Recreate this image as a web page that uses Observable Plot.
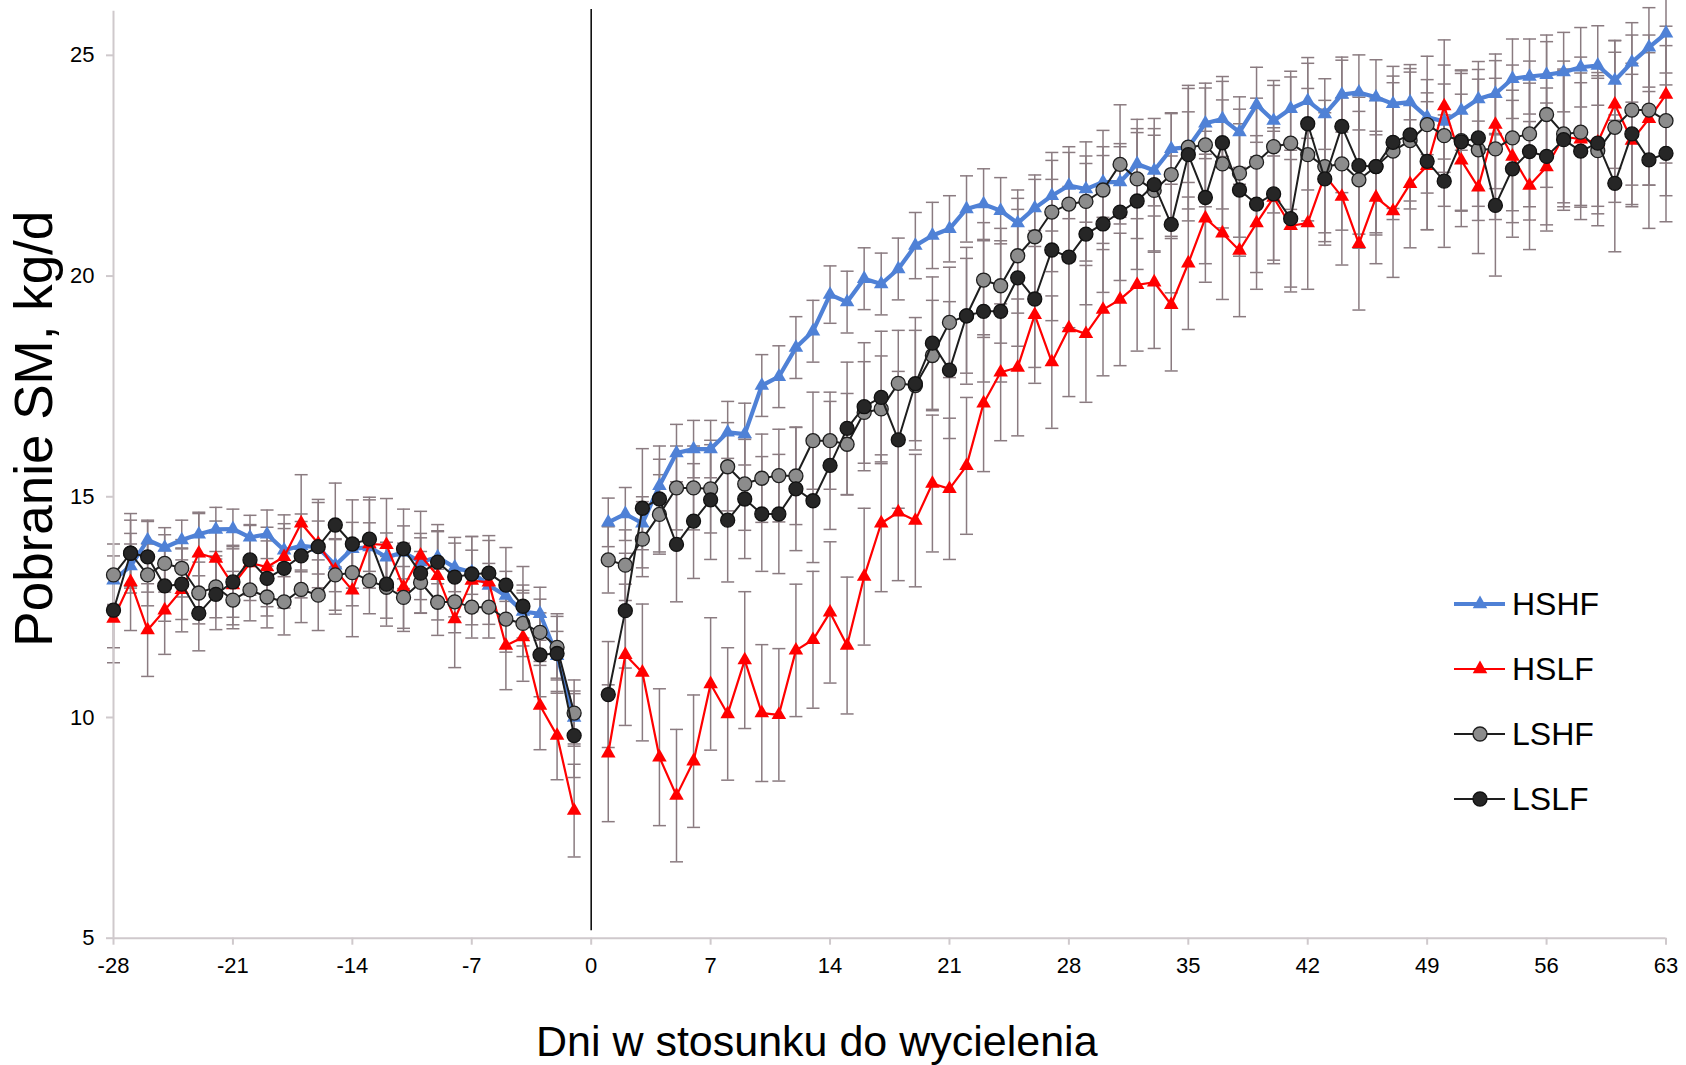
<!DOCTYPE html>
<html>
<head>
<meta charset="utf-8">
<script src="https://cdn.jsdelivr.net/npm/d3@7"></script>
<script src="https://cdn.jsdelivr.net/npm/@observablehq/plot@0.6"></script>
<style>
  html, body { margin: 0; padding: 0; background: #fff; }
  #wrap { position: relative; width: 1686px; height: 1065px; font-family: Arial, "Liberation Sans", sans-serif; }
  #legend { position: absolute; left: 1454px; top: 0; }
  .lg { position: absolute; left: 0; display: flex; align-items: center; height: 40px; white-space: nowrap; }
  .lg span { font-size: 32px; color: #000; margin-left: 6px; }
</style>
</head>
<body>
<div id="wrap"><div id="legend"></div></div>
<script>
// Days relative to calving (no day 0)
const days = [-28,-27,-26,-25,-24,-23,-22,-21,-20,-19,-18,-17,-16,-15,-14,-13,-12,-11,-10,-9,-8,-7,-6,-5,-4,-3,-2,-1,
  1,2,3,4,5,6,7,8,9,10,11,12,13,14,15,16,17,18,19,20,21,22,23,24,25,26,27,28,29,30,31,32,33,34,35,36,37,38,39,40,
  41,42,43,44,45,46,47,48,49,50,51,52,53,54,55,56,57,58,59,60,61,62,63];

const xTicks = [-28,-21,-14,-7,0,7,14,21,28,35,42,49,56,63];
const yTicks = [5,10,15,20,25];
const seriesNames = ["HSHF","HSLF","LSHF","LSLF"];

const HSHF = [13.11,13.43,14.02,13.85,14.02,14.15,14.26,14.27,14.08,14.15,13.79,13.89,13.85,13.45,13.82,13.86,13.63,13.74,13.52,13.63,13.4,13.29,12.99,12.76,12.4,12.35,11.4,10.0,
  14.42,14.61,14.4,15.25,15.99,16.08,16.08,16.46,16.42,17.52,17.72,18.38,18.75,19.58,19.41,19.94,19.82,20.16,20.69,20.92,21.07,21.52,21.63,21.48,21.2,21.54,21.82,22.05,21.97,22.13,
  22.13,22.54,22.39,22.88,22.92,23.46,23.56,23.26,23.88,23.52,23.79,23.97,23.67,24.11,24.16,24.05,23.9,23.94,23.6,23.5,23.75,24.01,24.13,24.47,24.52,24.56,24.62,24.73,24.77,24.43,24.84,25.18,25.5];
const HSHF_err = [0.55,0.5,0.45,0.45,0.45,0.5,0.5,0.45,0.5,0.55,0.6,0.55,0.6,0.6,0.6,0.55,0.55,0.6,0.55,0.6,0.55,0.5,0.5,0.55,0.6,0.6,0.55,0.6,
  0.55,0.6,0.6,0.6,0.65,0.65,0.65,0.7,0.7,0.7,0.7,0.7,0.7,0.65,0.7,0.7,0.7,0.7,0.75,0.75,0.75,0.75,0.8,0.75,0.75,0.75,0.8,0.75,0.75,0.8,
  0.8,0.8,0.8,0.8,0.8,0.8,0.85,0.8,0.85,0.8,0.85,0.85,0.8,0.85,0.85,0.85,0.85,0.85,0.85,0.85,0.9,0.85,0.9,0.9,0.85,0.9,0.9,0.9,0.9,0.9,0.9,0.9,0.9];

const HSLF = [12.24,13.07,11.98,12.43,12.89,13.72,13.6,13.0,13.5,13.41,13.64,14.4,13.94,13.34,12.88,13.93,13.91,12.95,13.67,13.21,12.23,13.1,13.06,11.63,11.82,10.27,9.59,7.89,
  9.19,11.42,11.02,9.1,8.23,9.01,10.76,10.08,11.3,10.1,10.06,11.52,11.76,12.38,11.63,13.19,14.4,14.65,14.46,15.3,15.18,15.7,17.12,17.82,17.93,19.12,18.05,18.82,18.69,19.24,
  19.47,19.8,19.86,19.35,20.29,21.31,20.97,20.58,21.2,21.78,21.14,21.2,22.28,21.8,20.73,21.78,21.47,22.09,22.5,23.85,22.62,22.01,23.43,22.71,22.05,22.47,23.16,23.1,23.03,23.89,23.07,23.56,24.11];
const HSLF_err = [1.0,1.1,1.05,1.0,0.95,0.9,0.85,0.9,0.85,0.9,0.95,1.1,1.0,1.0,1.05,1.0,1.05,1.0,1.0,1.0,1.1,1.0,0.95,1.0,1.0,1.0,1.0,1.05,
  1.55,1.6,1.55,1.55,1.5,1.5,1.5,1.5,1.55,1.55,1.5,1.5,1.55,1.6,1.55,1.55,1.55,1.55,1.5,1.55,1.6,1.55,1.55,1.55,1.55,1.55,1.5,1.55,1.55,1.5,
  1.5,1.5,1.5,1.5,1.5,1.45,1.5,1.5,1.5,1.5,1.5,1.5,1.5,1.55,1.5,1.5,1.5,1.45,1.45,1.5,1.5,1.5,1.45,1.5,1.45,1.45,1.5,1.5,1.45,1.45,1.5,1.5,1.55];

const LSHF = [13.23,13.72,13.23,13.49,13.38,12.82,12.96,12.66,12.89,12.73,12.62,12.9,12.77,13.23,13.28,13.1,12.95,12.72,13.06,12.61,12.62,12.5,12.5,12.23,12.13,11.93,11.59,10.1,
  13.57,13.45,14.04,14.6,15.2,15.2,15.18,15.68,15.29,15.42,15.48,15.47,16.27,16.27,16.19,16.91,16.99,17.57,17.52,18.2,18.95,19.1,19.91,19.78,20.46,20.89,21.45,21.63,21.69,21.95,
  22.53,22.2,21.94,22.3,22.92,22.97,22.54,22.33,22.58,22.93,23.01,22.75,22.48,22.54,22.18,22.48,22.83,23.07,23.43,23.18,23.07,22.86,22.88,23.13,23.22,23.66,23.22,23.26,22.84,23.37,23.76,23.76,23.52];
const LSHF_err = [0.7,0.75,0.7,0.65,0.65,0.7,0.7,0.65,0.7,0.7,0.75,0.75,0.8,0.8,0.75,0.75,0.7,0.7,0.7,0.75,0.7,0.7,0.7,0.75,0.75,0.75,0.7,0.75,
  0.75,0.8,0.85,0.9,0.95,0.95,1.0,1.0,1.05,1.0,1.05,1.1,1.1,1.1,1.15,1.15,1.2,1.2,1.25,1.25,1.25,1.3,1.3,1.3,1.3,1.3,1.35,1.3,1.35,1.35,
  1.35,1.35,1.4,1.4,1.4,1.4,1.45,1.45,1.45,1.5,1.5,1.5,1.5,1.5,1.55,1.5,1.55,1.55,1.55,1.6,1.6,1.6,1.6,1.65,1.65,1.65,1.65,1.7,1.7,1.7,1.7,1.7,1.7];

const LSLF = [12.43,13.72,13.64,12.98,13.02,12.36,12.79,13.07,13.57,13.15,13.38,13.66,13.87,14.36,13.93,14.04,13.02,13.82,13.27,13.52,13.18,13.25,13.27,13.0,12.52,11.42,11.45,9.59,
  10.52,12.42,14.74,14.95,13.92,14.45,14.93,14.47,14.95,14.61,14.61,15.18,14.91,15.71,16.55,17.04,17.25,16.29,17.56,18.48,17.87,19.1,19.2,19.2,19.96,19.48,20.59,20.43,20.95,21.18,
  21.45,21.7,22.07,21.17,22.75,21.78,23.02,21.95,21.63,21.86,21.3,23.45,22.2,23.39,22.5,22.48,23.03,23.2,22.6,22.15,23.04,23.13,21.6,22.43,22.82,22.71,23.09,22.83,23.01,22.1,23.22,22.63,22.78];
const LSLF_err = [0.85,0.9,0.8,0.8,0.8,0.85,0.8,0.8,0.8,0.85,0.9,0.95,1.0,0.95,1.0,0.95,0.95,0.9,0.9,0.85,0.9,0.85,0.85,0.85,0.9,0.95,0.9,0.95,
  1.2,1.3,1.35,1.2,1.3,1.3,1.35,1.4,1.35,1.3,1.35,1.4,1.4,1.45,1.5,1.45,1.5,1.55,1.5,1.5,1.55,1.55,1.6,1.6,1.55,1.55,1.6,1.6,1.6,1.55,
  1.55,1.55,1.5,1.55,1.5,1.5,1.5,1.5,1.55,1.5,1.55,1.5,1.5,1.5,1.55,1.55,1.5,1.5,1.55,1.5,1.55,1.55,1.6,1.55,1.55,1.55,1.6,1.55,1.6,1.55,1.6,1.55,1.55];

const values = {HSHF, HSLF, LSHF, LSLF};
const errors = {HSHF: HSHF_err, HSLF: HSLF_err, LSHF: LSHF_err, LSLF: LSLF_err};

const style = {
  HSHF: {line: "#4F81D6", width: 4.2, symbol: "triangle", r: 5.4, fill: "#4F81D6", stroke: "none", sw: 0},
  HSLF: {line: "#FF0000", width: 2.2, symbol: "triangle", r: 5.4, fill: "#FF0000", stroke: "none", sw: 0},
  LSHF: {line: "#1e1e1e", width: 2, symbol: "circle", r: 7, fill: "#8c8c8c", stroke: "#1e1e1e", sw: 1.3},
  LSLF: {line: "#1e1e1e", width: 2, symbol: "circle", r: 7, fill: "#262626", stroke: "#111111", sw: 1.3}
};

const rows = [];
for (const s of seriesNames) {
  days.forEach((d, i) => rows.push({series: s, day: d, v: values[s][i], e: errors[s][i], seg: d < 0 ? "pre" : "post"}));
}

const errColor = "#8a7b80";
const axisColor = "#cfc9cc";
const capSymbol = {draw(ctx, size) { const w = Math.sqrt(size / Math.PI); ctx.moveTo(-w, 0); ctx.lineTo(w, 0); }};

const marks = [
  // error bars
  Plot.ruleX(rows, {x: "day", y1: d => d.v - d.e, y2: d => d.v + d.e, stroke: errColor, strokeWidth: 1.5}),
  Plot.dot(rows, {x: "day", y: d => d.v + d.e, symbol: capSymbol, r: 6.5, fill: "none", stroke: errColor, strokeWidth: 1.5}),
  Plot.dot(rows, {x: "day", y: d => d.v - d.e, symbol: capSymbol, r: 6.5, fill: "none", stroke: errColor, strokeWidth: 1.5}),
  // axes lines
  Plot.ruleX([-28], {y1: 5, y2: 26, stroke: axisColor, strokeWidth: 2}),
  Plot.ruleY([5], {x1: -28, x2: 63, stroke: axisColor, strokeWidth: 2}),
  // calving line
  Plot.ruleX([0], {y1: 5.17, y2: 26.04, stroke: "#111", strokeWidth: 1.6}),
  Plot.axisX({ticks: xTicks, tickFormat: d => String(d), tickSize: 7, tickPadding: 12, fontSize: 22, stroke: axisColor, strokeWidth: 2, fill: "#000", label: null}),
  Plot.axisY({ticks: yTicks, tickSize: 7, tickPadding: 12, fontSize: 22, stroke: axisColor, strokeWidth: 2, fill: "#000", label: null})
];

for (const s of seriesNames) {
  const st = style[s];
  const data = rows.filter(r => r.series === s);
  marks.push(Plot.line(data, {x: "day", y: "v", z: "seg", stroke: st.line, strokeWidth: st.width, strokeLinejoin: "round"}));
  marks.push(Plot.dot(data, {x: "day", y: "v", symbol: st.symbol, r: st.r, fill: st.fill, stroke: st.stroke, strokeWidth: st.sw}));
}

marks.push(Plot.text(["Dni w stosunku do wycielenia"], {frameAnchor: "bottom", textAnchor: "middle", dx: -73, dy: 104, fontSize: 43, fill: "#000", lineAnchor: "middle"}));
marks.push(Plot.text(["Pobranie SM, kg/d"], {frameAnchor: "left", textAnchor: "middle", rotate: -90, dx: -78, dy: -46, fontSize: 53, fill: "#000", lineAnchor: "middle"}));

const chart = Plot.plot({
  width: 1686,
  height: 1065,
  marginLeft: 113,
  marginRight: 20.5,
  marginTop: 10.7,
  marginBottom: 127.3,
  style: {fontFamily: 'Arial, "Liberation Sans", sans-serif', background: "#fff", overflow: "visible"},
  x: {domain: [-28, 63]},
  y: {domain: [5, 26]},
  marks
});
document.getElementById("wrap").prepend(chart);

// Legend (HTML overlay)
const legendY = [604, 669, 734, 799];
const legend = d3.select("#legend");
seriesNames.forEach((s, i) => {
  const st = style[s];
  const row = legend.append("div").attr("class", "lg").style("top", (legendY[i] - 20) + "px");
  const svg = row.append("svg").attr("width", 52).attr("height", 40);
  svg.append("line").attr("x1", 0).attr("x2", 51).attr("y1", 20).attr("y2", 20)
    .attr("stroke", st.line).attr("stroke-width", st.width);
  const sym = st.symbol === "triangle" ? d3.symbolTriangle : d3.symbolCircle;
  svg.append("path").attr("transform", "translate(26,20)")
    .attr("d", d3.symbol(sym, Math.PI * st.r * st.r)())
    .attr("fill", st.fill).attr("stroke", st.stroke).attr("stroke-width", st.sw);
  row.append("span").text(s);
});
</script>
</body>
</html>
